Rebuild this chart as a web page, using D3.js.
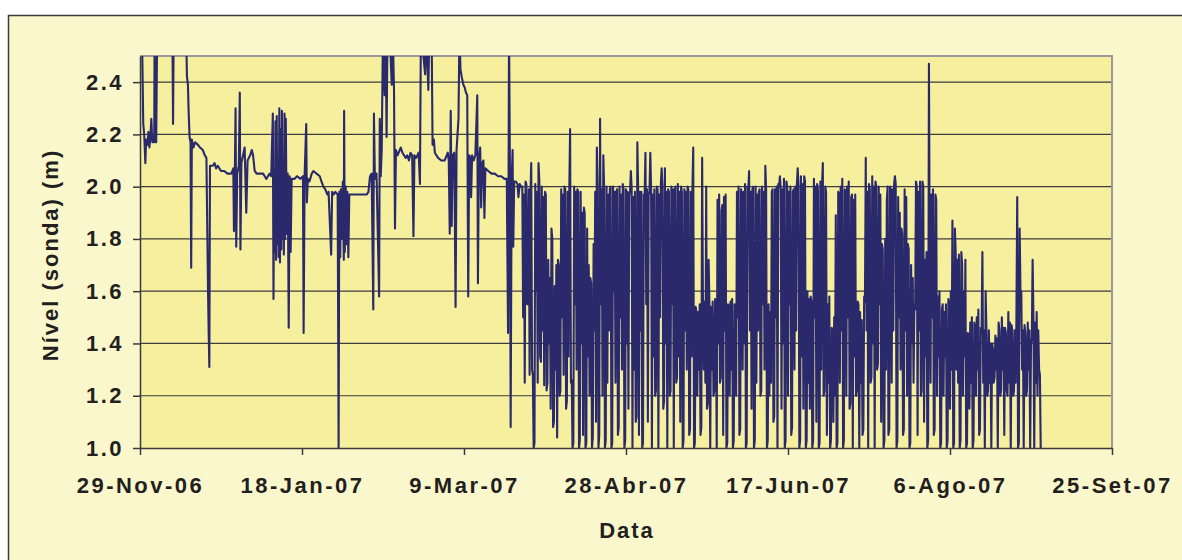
<!DOCTYPE html>
<html>
<head>
<meta charset="utf-8">
<script src="https://cdn.jsdelivr.net/npm/d3@7"></script>
<style>
  body { margin: 0; background: #fff; }
  text { font-family: "Liberation Sans", Arial, sans-serif; font-weight: bold; fill: #231f20; }
</style>
</head>
<body>
<svg id="grafico" width="1182" height="560"></svg>
<script>
// leituras da sonda - primeiro periodo (dia desde 29-Nov-06, nivel em m)
var dataInicio = "2006-11-29";
var diasInicio = [
  0, 0.6, 1.0, 1.3, 1.65, 1.9, 2.3, 2.6, 2.9, 3.2,
  3.5, 3.8, 4.1, 4.4, 4.5, 4.7, 5.0, 5.3, 10.0, 10.2,
  10.4, 14.2, 14.5, 14.8, 15.0, 15.3, 15.6, 15.8, 16.0, 16.5,
  17.0, 17.9, 18.5, 19.4, 20.0, 20.5, 21.0, 21.2, 21.4, 21.6,
  22.5, 23.0, 23.5, 24.0, 25.0, 26.0, 27.0, 28.2, 28.8, 29.0,
  29.3, 29.5, 29.7, 30.0, 30.5, 30.8, 31.0, 31.3, 31.8, 32.3,
  32.8, 33.2, 34.0, 34.5, 34.9, 35.4, 36.0, 37.0, 38.0, 38.5,
  39.0, 39.5, 40.0, 40.5, 41.0, 41.2, 41.4, 41.6, 41.8, 42.0,
  42.2, 42.4, 42.6, 42.8, 43.0, 43.2, 43.4, 43.6, 43.8, 44.0,
  44.2, 44.4, 44.6, 44.8, 45.0, 45.3, 45.6, 45.9, 46.2, 46.5,
  46.8, 47.2, 47.7, 48.5, 49.5, 50.3, 50.5, 50.8, 51.3, 51.5,
  51.8, 52.3, 53.0, 53.5, 54.5, 55.5, 56.0, 56.6, 57.2, 57.8,
  58.2, 59.0, 59.3, 59.8, 60.3, 61.0, 61.2, 61.3, 61.5, 61.8,
  62.0, 62.3, 62.6, 62.9, 63.0, 63.2, 63.5, 63.8, 64.0, 64.3,
  64.6, 65.0, 67.0, 70.0, 70.5, 71.0, 71.5, 72.0, 72.2, 72.5,
  73.0, 73.8, 74.0, 74.3, 74.6, 75.0, 75.5, 75.8, 76.1, 76.4,
  77.0, 77.7, 78.0, 78.4, 78.7, 79.0, 79.5, 80.5, 81.0, 82.0,
  82.5, 83.0, 83.5, 84.0, 84.4, 84.7, 85.2, 86.0, 86.4, 86.7,
  88.0, 88.3, 89.0, 89.3, 90.0, 90.3, 90.7, 91.0, 92.0, 93.0,
  94.0, 95.0, 95.3, 95.6, 95.9, 96.2, 96.5, 97.0, 97.4, 97.7,
  98.3, 98.6, 98.9, 99.3, 99.8, 100.2, 100.6, 101.0, 101.3, 101.6,
  102.0, 102.2, 102.5, 103.0, 103.5, 104.1, 104.3, 104.6, 105.0, 105.3,
  105.6, 106.0, 106.3, 106.6, 107.5, 108.5, 109.5, 110.5, 111.5, 112.5,
  113.2, 113.6, 113.9, 114.2, 114.4, 114.7, 115.0, 115.2, 115.5, 116.0,
  116.5, 116.8, 117.2, 117.6
];
var nivelInicio = [
  2.60, 2.60, 2.24, 2.20, 2.09, 2.18, 2.16, 2.21, 2.15, 2.19,
  2.26, 2.17, 2.19, 2.17, 2.60, 2.19, 2.17, 2.60, 2.60, 2.24,
  2.60, 2.60, 2.42, 2.39, 2.29, 2.19, 2.17, 1.69, 2.18, 2.15,
  2.17, 2.16, 2.15, 2.14, 2.12, 2.11, 1.60, 1.44, 1.31, 2.08,
  2.08, 2.09, 2.07, 2.08, 2.06, 2.06, 2.05, 2.05, 2.07, 1.83,
  2.08, 2.30, 1.77, 2.05, 2.08, 2.36, 1.76, 2.09, 2.12, 2.15,
  1.90, 2.10, 2.12, 2.14, 2.12, 2.06, 2.05, 2.05, 2.05, 2.04,
  2.03, 2.04, 2.05, 2.04, 2.28, 1.57, 2.05, 1.75, 2.25, 1.72,
  2.27, 1.78, 2.10, 1.73, 2.30, 1.71, 2.22, 1.76, 2.29, 1.80,
  2.05, 1.74, 2.28, 1.80, 2.26, 1.82, 2.05, 1.46, 2.04, 1.75,
  2.03, 2.03, 2.03, 2.04, 2.03, 2.04, 1.44, 2.04, 2.24, 1.94,
  2.03, 2.02, 2.05, 2.06, 2.05, 2.04, 2.02, 2.00, 1.99, 1.97,
  1.98, 1.74, 1.98, 1.97, 1.98, 1.97, 1.37, 1.00, 1.98, 1.73,
  1.99, 1.80, 2.02, 1.72, 2.29, 1.75, 2.00, 1.78, 1.98, 1.73,
  1.97, 1.97, 1.97, 1.97, 1.98, 2.04, 2.05, 1.53, 2.28, 2.03,
  2.05, 1.58, 2.26, 2.04, 2.14, 2.60, 2.35, 2.60, 2.19, 2.60,
  2.60, 2.39, 2.60, 2.37, 1.84, 2.14, 2.12, 2.15, 2.13, 2.11,
  2.12, 2.10, 2.13, 2.12, 1.81, 2.12, 2.11, 2.13, 2.01, 2.60,
  2.43, 2.60, 2.37, 2.60, 2.60, 2.16, 2.18, 2.13, 2.11, 2.10,
  2.10, 2.13, 2.10, 1.82, 2.29, 1.85, 2.12, 2.13, 1.54, 2.14,
  2.26, 2.60, 2.45, 2.42, 2.39, 2.38, 2.36, 2.35, 1.58, 2.12,
  2.11, 1.96, 2.12, 2.10, 2.12, 2.35, 1.63, 2.10, 2.15, 1.92,
  2.09, 2.10, 1.88, 2.07, 2.06, 2.05, 2.05, 2.04, 2.04, 2.03,
  2.03, 1.44, 2.60, 2.02, 1.08, 2.02, 2.14, 1.77, 2.02, 2.02,
  2.01, 1.96, 2.01, 2.00
];

// segundo periodo: leituras de 6 em 6 horas a partir do dia 118
var diaDenso0 = 118;
var passoDenso = 0.25;
var nivelDenso = [
  2.00, 1.50, 1.97, 1.25, 2.02, 2.01, 1.55, 1.55, 1.99, 1.28, 1.96, 2.09, 1.30, 1.28, 1.00, 1.02, 2.01, 1.60, 1.98, 1.25,
  2.09, 2.02, 1.35, 1.33, 2.00, 1.45, 1.96, 1.24, 1.98, 1.97, 1.22, 1.25, 1.72, 1.40, 1.65, 1.15, 1.84, 1.80, 1.08, 1.10,
  1.62, 1.30, 1.70, 1.04, 1.72, 1.70, 1.20, 1.22, 1.99, 1.50, 1.97, 1.28, 2.00, 1.99, 1.15, 1.18, 1.98, 1.35, 1.99, 2.22,
  1.25, 1.26, 1.00, 1.02, 2.00, 1.55, 1.98, 1.30, 1.99, 1.98, 1.00, 1.03, 1.98, 1.40, 1.90, 1.05, 1.92, 1.90, 1.00, 1.02,
  1.84, 1.35, 1.70, 1.20, 1.65, 1.63, 1.00, 1.04, 1.78, 1.45, 1.98, 1.10, 2.15, 2.00, 1.00, 1.05, 2.26, 1.55, 1.99, 1.20,
  2.12, 1.99, 1.00, 1.03, 2.00, 1.25, 1.97, 1.45, 1.99, 2.00, 1.00, 1.02, 2.00, 1.60, 1.98, 1.25, 1.98, 1.99, 1.05, 1.08,
  2.00, 1.50, 1.97, 1.30, 2.01, 1.99, 1.00, 1.03, 1.99, 1.40, 1.98, 1.15, 1.97, 1.98, 2.06, 1.99, 1.00, 1.96, 1.30, 1.98,
  1.10, 1.12, 2.17, 1.99, 1.05, 1.98, 1.45, 1.98, 1.00, 1.02, 1.97, 1.96, 2.13, 1.55, 1.99, 1.10, 1.97, 1.98, 2.13, 1.99,
  1.00, 1.97, 1.35, 1.99, 1.20, 1.22, 2.00, 1.99, 1.00, 1.97, 1.50, 2.01, 2.07, 2.00, 1.15, 1.18, 2.07, 1.40, 1.98, 1.00,
  1.99, 1.98, 1.20, 1.22, 2.00, 1.55, 1.99, 1.00, 1.98, 2.00, 1.25, 1.27, 2.01, 1.35, 1.98, 1.10, 2.00, 1.98, 1.00, 1.03,
  1.99, 1.45, 1.98, 1.30, 2.00, 1.99, 1.05, 1.07, 1.98, 1.35, 1.99, 2.15, 1.00, 1.02, 1.54, 1.52, 1.20, 1.52, 1.30, 1.55,
  1.05, 1.08, 2.11, 1.56, 1.30, 1.56, 1.25, 2.00, 1.15, 1.17, 1.72, 1.55, 1.00, 1.54, 1.30, 1.56, 1.20, 1.22, 1.57, 1.55,
  1.00, 1.95, 1.40, 1.97, 1.25, 1.27, 1.91, 1.93, 1.05, 1.96, 1.45, 1.97, 1.00, 1.02, 1.55, 1.54, 1.20, 1.56, 1.30, 1.57,
  1.00, 1.03, 1.55, 1.53, 1.20, 1.98, 1.50, 2.00, 1.05, 1.07, 1.99, 1.97, 1.30, 1.98, 1.40, 2.01, 1.00, 1.02, 2.00, 1.99,
  2.06, 1.45, 1.98, 1.15, 1.99, 2.00, 1.00, 1.03, 2.00, 1.25, 1.97, 1.45, 1.98, 1.99, 1.20, 1.22, 2.00, 1.55, 1.98, 1.30,
  2.08, 1.99, 1.00, 1.03, 1.55, 1.20, 1.52, 1.25, 1.98, 1.99, 1.10, 1.12, 1.99, 1.50, 2.00, 1.00, 2.01, 2.00, 2.04, 1.99,
  1.15, 1.99, 1.40, 2.03, 1.00, 1.03, 2.02, 2.00, 1.20, 1.98, 1.55, 2.00, 1.05, 1.08, 1.98, 1.99, 1.30, 2.00, 1.45, 2.01,
  2.07, 2.00, 1.00, 1.03, 2.04, 1.35, 2.01, 1.15, 2.04, 2.02, 1.00, 1.03, 1.60, 1.25, 1.57, 1.15, 1.58, 1.56, 1.00, 1.03,
  2.03, 1.50, 2.00, 1.10, 2.01, 1.99, 1.00, 1.02, 2.02, 1.30, 2.00, 2.09, 1.20, 1.22, 2.00, 1.98, 1.05, 1.55, 1.25, 1.58,
  1.00, 1.03, 1.46, 1.44, 1.10, 1.50, 1.20, 1.89, 1.00, 1.02, 1.98, 1.97, 1.25, 2.00, 1.45, 2.03, 1.00, 1.03, 1.99, 1.98,
  1.20, 2.00, 1.50, 2.02, 1.15, 1.17, 1.96, 1.97, 1.00, 1.95, 1.35, 1.97, 1.20, 1.22, 1.56, 1.55, 1.00, 1.52, 1.25, 1.49,
  1.05, 1.07, 1.58, 1.56, 2.11, 1.45, 1.98, 1.00, 2.01, 1.99, 1.25, 1.27, 2.04, 1.40, 2.00, 1.00, 2.02, 2.00, 1.30, 1.32,
  2.00, 1.55, 1.97, 1.10, 1.78, 1.76, 1.00, 1.03, 1.80, 1.30, 1.95, 2.00, 1.05, 1.07, 2.00, 1.98, 1.25, 1.99, 1.45, 2.01,
  2.04, 2.01, 1.00, 1.03, 1.96, 1.50, 1.90, 1.30, 1.84, 1.82, 1.05, 1.07, 1.99, 1.45, 1.96, 1.20, 1.78, 1.76, 1.00, 1.02,
  1.70, 1.40, 1.65, 1.25, 1.55, 1.53, 2.02, 2.00, 1.05, 1.98, 1.45, 2.02, 1.20, 1.22, 2.02, 2.00, 1.10, 1.72, 1.35, 1.75,
  1.00, 1.03, 2.47, 1.70, 1.25, 1.97, 1.50, 1.99, 1.05, 1.07, 1.97, 1.95, 1.20, 1.58, 1.35, 1.60, 1.00, 1.02, 1.53, 1.55,
  1.20, 1.52, 1.35, 1.55, 1.00, 1.03, 1.57, 1.54, 1.15, 1.60, 1.30, 1.87, 1.00, 1.02, 1.84, 1.75, 1.30, 1.72, 1.25, 1.74,
  1.00, 1.03, 1.75, 1.70, 1.20, 1.60, 1.35, 1.72, 1.00, 1.02, 1.44, 1.42, 1.15, 1.48, 1.25, 1.50, 1.00, 1.03, 1.48, 1.45,
  1.20, 1.50, 1.30, 1.53, 1.05, 1.07, 1.46, 1.44, 1.75, 1.25, 1.45, 1.00, 1.60, 1.45, 1.20, 1.22, 1.45, 1.25, 1.40, 1.00,
  1.40, 1.38, 1.25, 1.27, 1.43, 1.30, 1.42, 1.00, 1.48, 1.45, 1.20, 1.22, 1.50, 1.30, 1.46, 1.05, 1.46, 1.44, 1.22, 1.20,
  1.52, 1.25, 1.48, 1.00, 1.47, 1.45, 1.20, 1.22, 1.45, 1.25, 1.50, 1.96, 1.00, 1.02, 1.84, 1.60, 1.60, 1.30, 1.45, 1.00,
  1.47, 1.44, 1.20, 1.22, 1.48, 1.30, 1.45, 1.00, 1.40, 1.42, 1.72, 1.50, 1.00, 1.48, 1.25, 1.52, 1.20, 1.45, 1.30, 1.28,
  1.00
];

// eixos
var yTicks = [1.0, 1.2, 1.4, 1.6, 1.8, 2.0, 2.2, 2.4];
var xTickDatas = ["2006-11-29", "2007-01-18", "2007-03-09", "2007-04-28", "2007-06-17", "2007-08-06", "2007-09-25"];
var xTickLabels = ["29-Nov-06", "18-Jan-07", "9-Mar-07", "28-Abr-07", "17-Jun-07", "6-Ago-07", "25-Set-07"];

var svg = d3.select("#grafico");
    width = +svg.attr("width");
    height = +svg.attr("height");
var plot = {left: 140, top: 56, right: 1112, bottom: 448};

var parseData = d3.utcParse("%Y-%m-%d");
var inicio = parseData(dataInicio);

var x = d3.scaleUtc()
    .domain([parseData(xTickDatas[0]), parseData(xTickDatas[xTickDatas.length - 1])])
    .range([plot.left, plot.right]);
var y = d3.scaleLinear()
    .domain([1.0, 2.5])
    .range([plot.bottom, plot.top]);

// fundo do grafico
svg.append("rect")
    .attr("x", 8.5).attr("y", 15.5)
    .attr("width", width).attr("height", height)
    .attr("fill", "#fbf7cd")
    .attr("stroke", "#3a3a3a")
    .attr("stroke-width", 1.5);

svg.append("rect")
    .attr("x", plot.left).attr("y", plot.top)
    .attr("width", plot.right - plot.left).attr("height", plot.bottom - plot.top)
    .attr("fill", "#f6f09e");

// grelha
svg.append("g")
  .selectAll("line")
  .data(yTicks.slice(1))
  .enter().append("line")
    .attr("x1", plot.left).attr("x2", plot.right)
    .attr("y1", function(d) { return y(d); })
    .attr("y2", function(d) { return y(d); })
    .attr("stroke", "#3d3d3d")
    .attr("stroke-width", 1.2);

// bordo superior e direito (cinzento)
svg.append("path")
    .attr("d", "M" + plot.left + "," + plot.top + "H" + plot.right + "V" + plot.bottom)
    .attr("fill", "none")
    .attr("stroke", "#9a9a9a")
    .attr("stroke-width", 2);

// serie
var pontos = [];
diasInicio.forEach(function(d, i) { pontos.push({dia: d, nivel: nivelInicio[i]}); });
nivelDenso.forEach(function(v, i) { pontos.push({dia: diaDenso0 + i * passoDenso, nivel: v}); });

svg.append("clipPath").attr("id", "recorte")
  .append("rect")
    .attr("x", plot.left).attr("y", plot.top)
    .attr("width", plot.right - plot.left).attr("height", plot.bottom - plot.top);

var linha = d3.line()
    .x(function(d) { return x(new Date(+inicio + d.dia * 864e5)); })
    .y(function(d) { return y(d.nivel); });

svg.append("path")
    .datum(pontos)
    .attr("clip-path", "url(#recorte)")
    .attr("d", linha)
    .attr("fill", "none")
    .attr("stroke", "#29296c")
    .attr("stroke-width", 2.1)
    .attr("stroke-linejoin", "round");

// eixo y
var eixoY = svg.append("g")
    .attr("transform", "translate(" + plot.left + ",0)")
    .call(d3.axisLeft(y).tickValues(yTicks).tickFormat(d3.format(".1f")).tickSize(7).tickSizeOuter(0).tickPadding(9));

// eixo x
var eixoX = svg.append("g")
    .attr("transform", "translate(0," + plot.bottom + ")")
    .call(d3.axisBottom(x)
      .tickValues(xTickDatas.map(parseData))
      .tickFormat(function(d, i) { return xTickLabels[i]; })
      .tickSize(7).tickSizeOuter(0).tickPadding(22));

[eixoY, eixoX].forEach(function(g) {
  g.select(".domain").attr("stroke", "#3a3a3a").attr("stroke-width", 1.5);
  g.selectAll(".tick line").attr("stroke", "#3a3a3a").attr("stroke-width", 1.5);
  g.selectAll(".tick text")
    .attr("fill", "#231f20")
    .style("font-size", "22px")
    .style("letter-spacing", "2.5px");
});

// titulos
svg.append("text")
    .attr("transform", "translate(58,255) rotate(-90)")
    .attr("text-anchor", "middle")
    .style("font-size", "22px")
    .style("letter-spacing", "2px")
    .text("Nível (sonda) (m)");

svg.append("text")
    .attr("x", 627).attr("y", 538)
    .attr("text-anchor", "middle")
    .style("font-size", "22px")
    .style("letter-spacing", "2px")
    .text("Data");
</script>
</body>
</html>
